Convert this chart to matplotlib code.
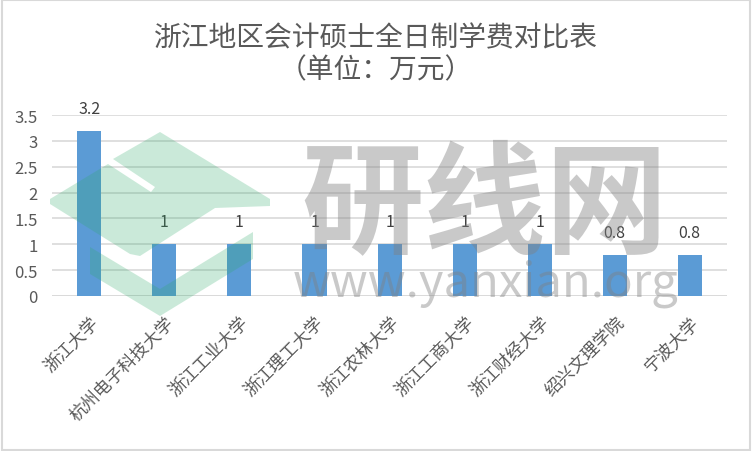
import matplotlib.pyplot as plt
from matplotlib.patches import Polygon, Rectangle
import matplotlib.transforms as mtransforms

plt.rcParams['font.family'] = ['Noto Sans CJK SC', 'DejaVu Sans']

schools = ['浙江大学', '杭州电子科技大学', '浙江工业大学', '浙江理工大学', '浙江农林大学',
           '浙江工商大学', '浙江财经大学', '绍兴文理学院', '宁波大学']
fees = [3.2, 1, 1, 1, 1, 1, 1, 0.8, 0.8]
fee_labels = ['3.2', '1', '1', '1', '1', '1', '1', '0.8', '0.8']
yticks = [0, 0.5, 1, 1.5, 2, 2.5, 3, 3.5]

text_color = '#595959'
W, H = 752, 452

fig = plt.figure(figsize=(W / 100, H / 100), dpi=100)
ax = fig.add_axes([0.069, 0.343, 0.898, 0.400])

x = range(len(schools))
bars = ax.bar(x, fees, width=0.32, color='#5B9BD5', zorder=2)
for b, lab in zip(bars, fee_labels):
    ax.annotate(lab, (b.get_x() + b.get_width() / 2, b.get_height()),
                xytext=(0, 10), textcoords='offset points', ha='center', va='bottom',
                fontsize=11.5, color='#404040')

ax.set_xlim(-0.5, len(schools) - 0.5)
ax.set_ylim(0, 3.5)
ax.set_yticks(yticks)
ax.set_yticklabels([('%g' % v) for v in yticks], fontsize=12, color=text_color)
ax.set_xticks(list(x))
ax.set_xticklabels(schools, rotation=45, ha='right', rotation_mode='anchor',
                   fontsize=12.5, color=text_color)
shift = mtransforms.ScaledTranslation(8 / 100, 0, fig.dpi_scale_trans)
for t in ax.get_xticklabels():
    t.set_transform(t.get_transform() + shift)
ax.tick_params(length=0)
ax.tick_params(axis='x', pad=12)
ax.tick_params(axis='y', pad=10)
ax.grid(axis='y', color='#d9d9d9', linewidth=1.2, zorder=0)
for s in ax.spines.values():
    s.set_visible(False)
ax.axhline(0, color='#d9d9d9', linewidth=1.2, zorder=1)

fig.text(0.5, 0.915, '浙江地区会计硕士全日制学费对比表', ha='center', va='center',
         fontsize=20, color=text_color)
fig.text(0.5, 0.845, '（单位：万元）', ha='center', va='center',
         fontsize=20, color=text_color)

# watermark: logo (pixel coords from top-left)
logo = [
    [(160, 133), (270, 200), (270, 207), (215, 209), (140, 257), (130, 255),
     (50, 205), (50, 200), (108, 165), (151, 193), (155, 188), (113, 160)],
    [(90, 248), (160, 290), (253, 233), (253, 260), (160, 317), (90, 275)],
]
for pts in logo:
    poly = Polygon([(px / W, 1 - py / H) for px, py in pts], closed=True,
                   transform=fig.transFigure, facecolor='#2eaa6a', edgecolor='none',
                   alpha=0.25, zorder=5, joinstyle='round')
    fig.add_artist(poly)
fig.text(0.644, 0.54, '研线网', ha='center', va='center', fontsize=88,
         color='#808080', alpha=0.42, fontweight='bold', zorder=5)
fig.text(0.646, 0.343, 'www.yanxian.org', ha='center', va='baseline', fontsize=34,
         color='#808080', alpha=0.42, zorder=5)

fig.add_artist(Rectangle((0.002, 0.003), 0.996, 0.994, transform=fig.transFigure,
                         fill=False, edgecolor='#d9d9d9', linewidth=1.5))

fig.savefig('out.png', dpi=100)
